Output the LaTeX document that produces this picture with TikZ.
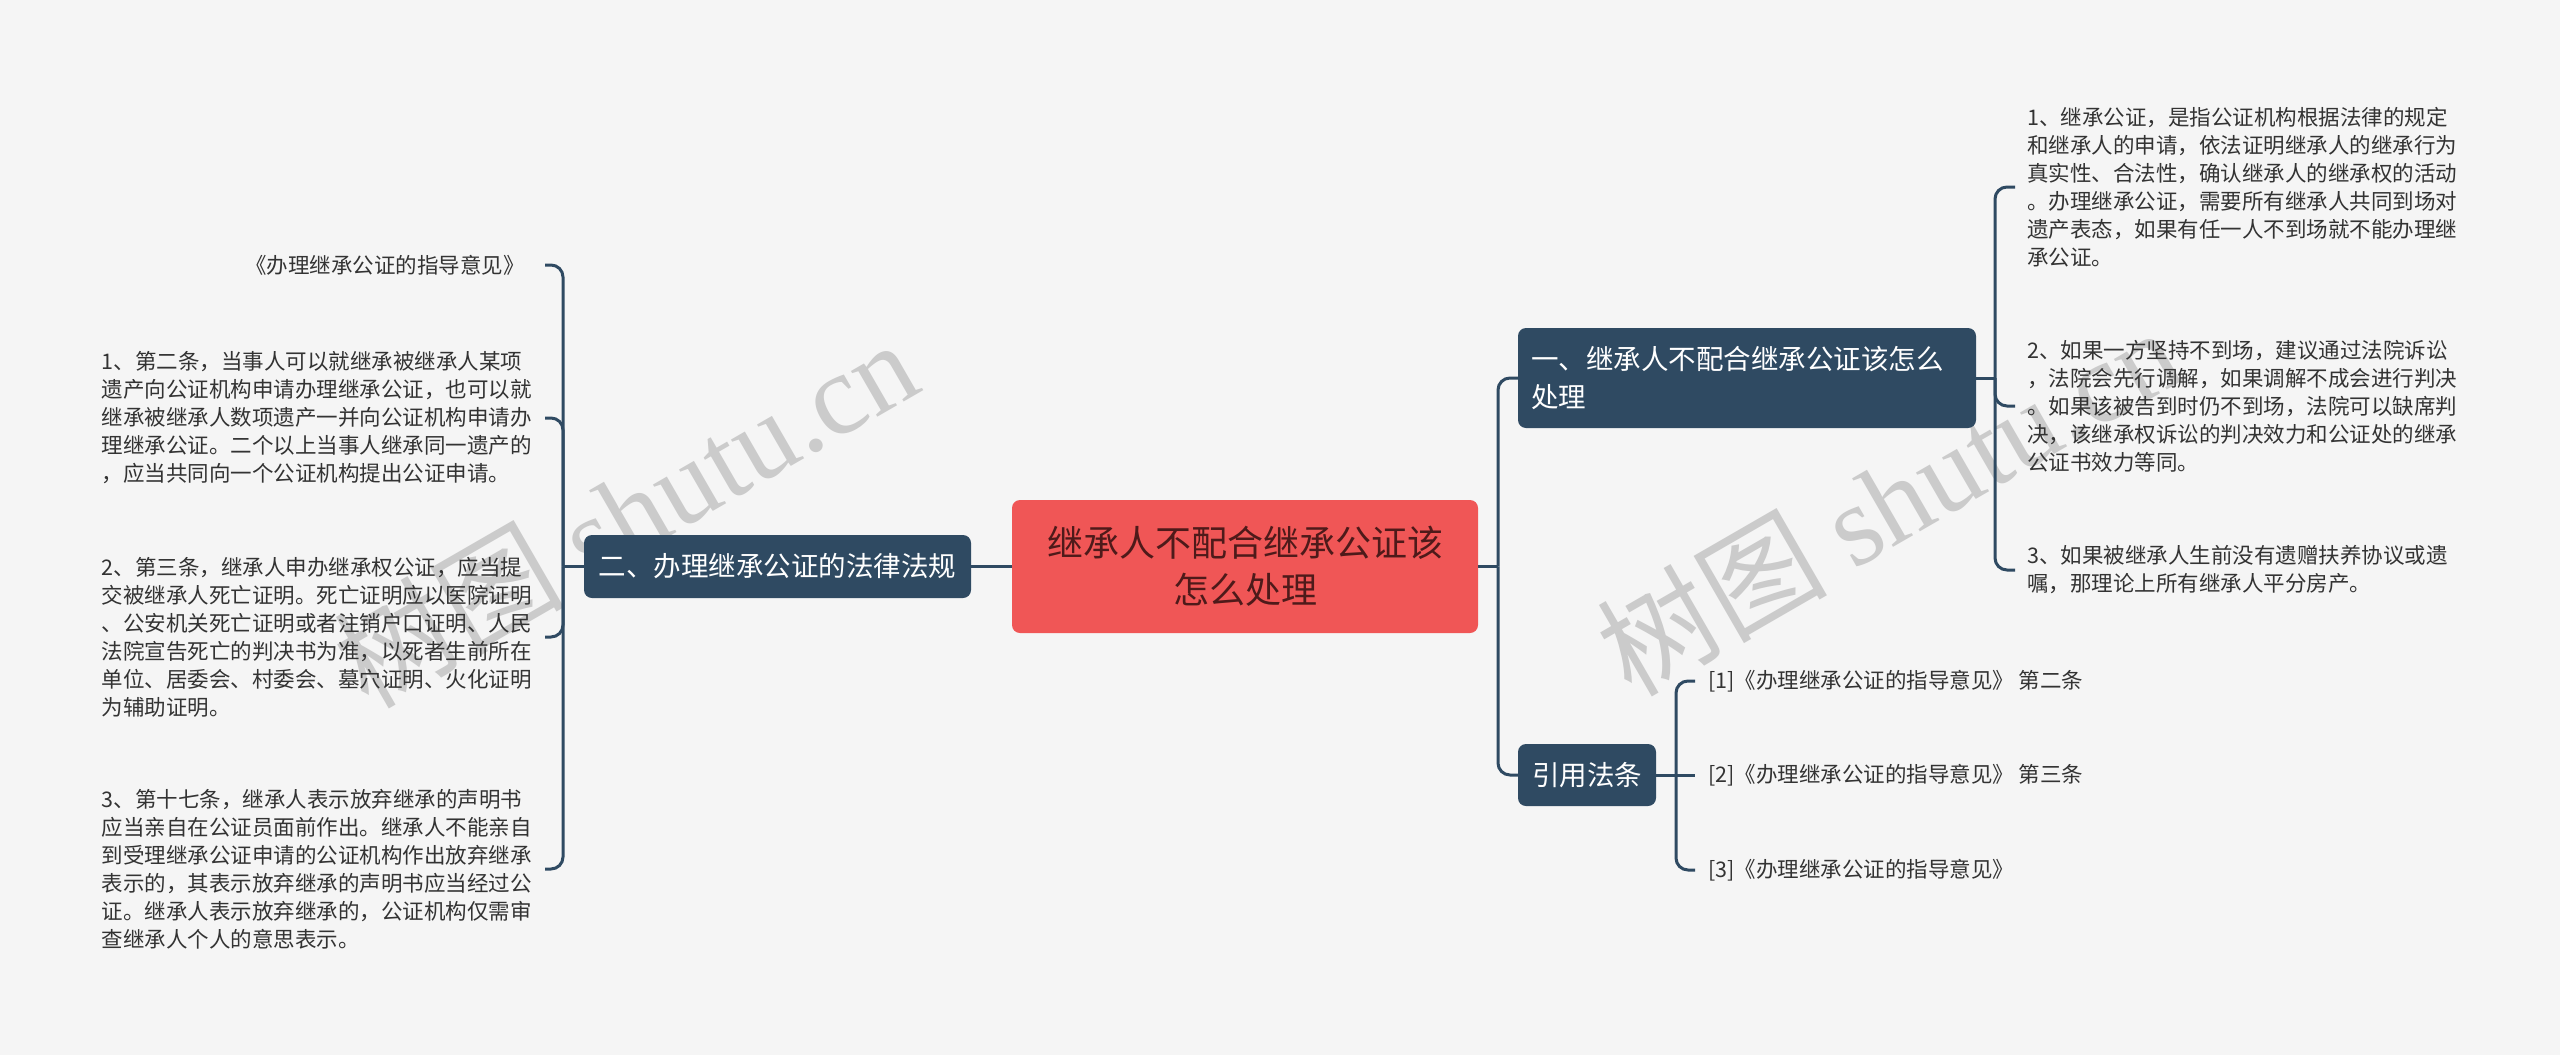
\documentclass[tikz,border=0pt]{standalone}
\usepackage{fontspec}
\setmainfont{Noto Sans CJK SC}
\newfontfamily\wmserif{Liberation Serif}
\definecolor{bgc}{HTML}{F5F5F5}
\definecolor{navy}{HTML}{2F4A62}
\definecolor{redc}{HTML}{F05656}
\definecolor{ctext}{HTML}{4E1A1A}
\definecolor{leafc}{HTML}{333333}
\definecolor{wmc}{HTML}{CBCBCB}
\begin{document}
\begin{tikzpicture}[x=1pt,y=-1pt,
  conn/.style={draw=navy, line width=3pt, rounded corners=12pt},
  topic/.style={fill=navy, rounded corners=8pt, text=white, font=\fontsize{27.5}{38}\selectfont, inner sep=0pt},
  leaf/.style={text=leafc, font=\fontsize{21.5}{28}\selectfont, align=left, inner ysep=0pt},
  wm/.style={text=wmc, font=\fontsize{115}{115}\selectfont, rotate=30, inner sep=0pt}]
\fill[bgc] (0,0) rectangle (2560,1055);
\useasboundingbox (0,0) rectangle (2560,1055);
% watermarks
\node[wm] (wmL) at (625,512) {树图 {\wmserif shutu.cn}};
\node[wm] (wmR) at (1888,500) {树图 {\wmserif shutu.cn}};
% main nodes
\node[fill=redc, rounded corners=8pt, minimum width=466pt, minimum height=133pt, align=center,
  font=\fontsize{36}{47}\selectfont, text=ctext, inner sep=0pt] (C) at (1245,566.5)
  {继承人不配合继承公证该\\怎么处理};
\node[topic, minimum width=387pt, minimum height=63pt] (L) at (777.5,566.5) {二、办理继承公证的法律法规};
\node[topic, text width=432pt, inner xsep=13pt, minimum height=100pt, align=left] (R1) at (1747,378)
  {一、继承人不配合继承公证该怎么\\处理};
\node[topic, minimum width=138pt, minimum height=62pt] (R2) at (1587,775) {引用法条};
% left leaves
\node[leaf, anchor=east, inner xsep=20pt, align=right] (lf0) at (545,265) {《办理继承公证的指导意见》};
\node[leaf, anchor=east, inner xsep=13pt] (lf1) at (545,418) {1、第二条，当事人可以就继承被继承人某项\\遗产向公证机构申请办理继承公证，也可以就\\继承被继承人数项遗产一并向公证机构申请办\\理继承公证。二个以上当事人继承同一遗产的\\，应当共同向一个公证机构提出公证申请。};
\node[leaf, anchor=east, inner xsep=13pt] (lf2) at (545,637) {2、第三条，继承人申办继承权公证，应当提\\交被继承人死亡证明。死亡证明应以医院证明\\、公安机关死亡证明或者注销户口证明、人民\\法院宣告死亡的判决书为准，以死者生前所在\\单位、居委会、村委会、墓穴证明、火化证明\\为辅助证明。};
\node[leaf, anchor=east, inner xsep=13pt] (lf3) at (545,869) {3、第十七条，继承人表示放弃继承的声明书\\应当亲自在公证员面前作出。继承人不能亲自\\到受理继承公证申请的公证机构作出放弃继承\\表示的，其表示放弃继承的声明书应当经过公\\证。继承人表示放弃继承的，公证机构仅需审\\查继承人个人的意思表示。};
% right leaves
\node[leaf, anchor=west, inner xsep=12pt] (rl1) at (2015,187) {1、继承公证，是指公证机构根据法律的规定\\和继承人的申请，依法证明继承人的继承行为\\真实性、合法性，确认继承人的继承权的活动\\。办理继承公证，需要所有继承人共同到场对\\遗产表态，如果有任一人不到场就不能办理继\\承公证。};
\node[leaf, anchor=west, inner xsep=12pt] (rl2) at (2015,406) {2、如果一方坚持不到场，建议通过法院诉讼\\，法院会先行调解，如果调解不成会进行判决\\。如果该被告到时仍不到场，法院可以缺席判\\决，该继承权诉讼的判决效力和公证处的继承\\公证书效力等同。};
\node[leaf, anchor=west, inner xsep=12pt] (rl3) at (2015,570) {3、如果被继承人生前没有遗赠扶养协议或遗\\嘱，那理论上所有继承人平分房产。};
% citations
\node[leaf, anchor=west, inner xsep=13pt] (ct1) at (1695,681) {[1]《办理继承公证的指导意见》 第二条};
\node[leaf, anchor=west, inner xsep=13pt] (ct2) at (1695,775) {[2]《办理继承公证的指导意见》 第三条};
\node[leaf, anchor=west, inner xsep=13pt] (ct3) at (1695,870) {[3]《办理继承公证的指导意见》};
% junctions
\coordinate (JC) at (1498,566.5);
\coordinate (JL) at (563,566.5);
\coordinate (J1) at (1995,378);
\coordinate (J2) at (1676,775);
% connectors
\draw[conn] (C.west) -- (L.east);
\draw[conn] (L.west) -- (JL);
\draw[conn] (lf0.east) -| (JL);
\draw[conn] (lf1.east) -| (JL);
\draw[conn] (lf2.east) -| (JL);
\draw[conn] (lf3.east) -| (JL);
\draw[conn] (C.east) -- (JC);
\draw[conn] (R1.west) -| (JC);
\draw[conn] (R2.west) -| (JC);
\draw[conn] (R1.east) -- (J1);
\draw[conn] (rl1.west) -| (J1);
\draw[conn] (rl2.west) -| (J1);
\draw[conn] (rl3.west) -| (J1);
\draw[conn] (R2.east) -- (ct2.west);
\draw[conn] (ct1.west) -| (J2);
\draw[conn] (ct3.west) -| (J2);
\end{tikzpicture}
\end{document}
